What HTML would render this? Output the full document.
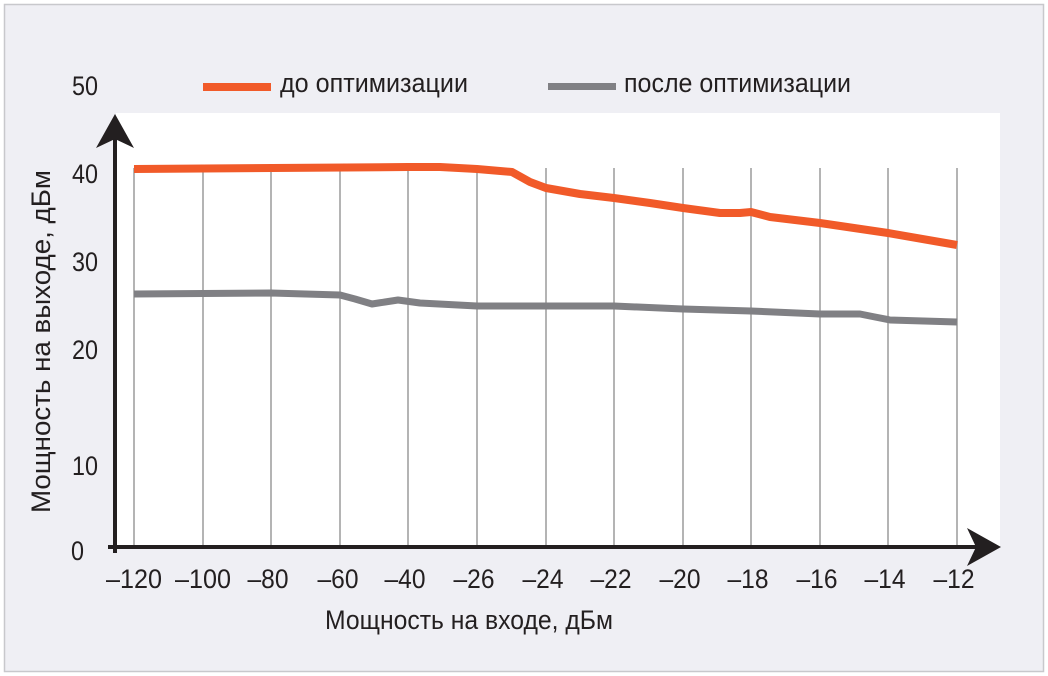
<!DOCTYPE html>
<html><head><meta charset="utf-8"><style>
body{margin:0;background:#fff}
svg{display:block}
text{font-family:"Liberation Sans",sans-serif;fill:#231f20}
</style></head><body>
<svg width="1048" height="676" viewBox="0 0 1048 676">
<rect x="4.5" y="4.5" width="1039" height="667" fill="#efeff4" stroke="#c8c8cc" stroke-width="1.5"/>
<rect x="116" y="113" width="884" height="435" fill="#fff"/>
<g stroke="#b4b4b4" stroke-width="2">
<line x1="134" y1="168" x2="134" y2="547"/><line x1="203" y1="168" x2="203" y2="547"/><line x1="271" y1="168" x2="271" y2="547"/><line x1="340" y1="168" x2="340" y2="547"/><line x1="408" y1="168" x2="408" y2="547"/><line x1="477" y1="168" x2="477" y2="547"/><line x1="546" y1="168" x2="546" y2="547"/><line x1="614" y1="168" x2="614" y2="547"/><line x1="683" y1="168" x2="683" y2="547"/><line x1="751" y1="168" x2="751" y2="547"/><line x1="820" y1="168" x2="820" y2="547"/><line x1="888" y1="168" x2="888" y2="547"/><line x1="957" y1="168" x2="957" y2="547"/>
</g>
<polyline fill="none" stroke="#808084" stroke-width="7" stroke-linejoin="round" points="134,294 271,293 340,295 355,299 372,304 385,302 398,300 420,303 477,306 614,306 683,309 751,311 820,314 860,314 875,317 890,320 957,322"/>
<polyline fill="none" stroke="#f15a29" stroke-width="8" stroke-linejoin="round" points="134,169 408,167 440,167 477,169 512,172 530,182 546,188 580,194 614,198 650,203 683,208 720,213 740,213 751,212 770,217 820,223 888,233 957,245"/>
<g stroke="#231f20" stroke-width="4">
<line x1="115" y1="130" x2="115" y2="553"/>
<line x1="108" y1="547" x2="985" y2="547"/>
</g>
<polygon points="115,114 96,148 115,139 134,148" fill="#231f20"/>
<polygon points="1001,547 967,528 976,547 967,566" fill="#231f20"/>
<g font-size="27" lengthAdjust="spacingAndGlyphs">
<text x="72" y="95" textLength="26" lengthAdjust="spacingAndGlyphs">50</text>
<text x="72" y="183" textLength="26" lengthAdjust="spacingAndGlyphs">40</text>
<text x="72" y="271" textLength="26" lengthAdjust="spacingAndGlyphs">30</text>
<text x="72" y="359" textLength="26" lengthAdjust="spacingAndGlyphs">20</text>
<text x="72" y="475" textLength="26" lengthAdjust="spacingAndGlyphs">10</text>
<text x="71" y="560" textLength="13" lengthAdjust="spacingAndGlyphs">0</text>
<g text-anchor="middle">
<text x="134" y="588" textLength="56" lengthAdjust="spacingAndGlyphs">–120</text>
<text x="203" y="588" textLength="56" lengthAdjust="spacingAndGlyphs">–100</text>
<text x="268" y="588" textLength="41" lengthAdjust="spacingAndGlyphs">–80</text>
<text x="338" y="588" textLength="41" lengthAdjust="spacingAndGlyphs">–60</text>
<text x="405" y="588" textLength="41" lengthAdjust="spacingAndGlyphs">–40</text>
<text x="474" y="588" textLength="41" lengthAdjust="spacingAndGlyphs">–26</text>
<text x="543" y="588" textLength="41" lengthAdjust="spacingAndGlyphs">–24</text>
<text x="611" y="588" textLength="41" lengthAdjust="spacingAndGlyphs">–22</text>
<text x="680" y="588" textLength="41" lengthAdjust="spacingAndGlyphs">–20</text>
<text x="748" y="588" textLength="41" lengthAdjust="spacingAndGlyphs">–18</text>
<text x="817" y="588" textLength="41" lengthAdjust="spacingAndGlyphs">–16</text>
<text x="885" y="588" textLength="41" lengthAdjust="spacingAndGlyphs">–14</text>
<text x="954" y="588" textLength="41" lengthAdjust="spacingAndGlyphs">–12</text>
</g>
<text x="325" y="629" textLength="288" lengthAdjust="spacingAndGlyphs">Мощность на входе, дБм</text>
<text transform="translate(50,513) rotate(-90)" textLength="343" lengthAdjust="spacingAndGlyphs">Мощность на выходе,  дБм</text>
<text x="280" y="92" textLength="188" lengthAdjust="spacingAndGlyphs">до оптимизации</text>
<text x="624" y="92" textLength="227" lengthAdjust="spacingAndGlyphs">после оптимизации</text>
</g>
<rect x="203" y="83" width="68" height="8" fill="#f15a29"/>
<rect x="548" y="83" width="68" height="7" fill="#808084"/>
</svg>
</body></html>
